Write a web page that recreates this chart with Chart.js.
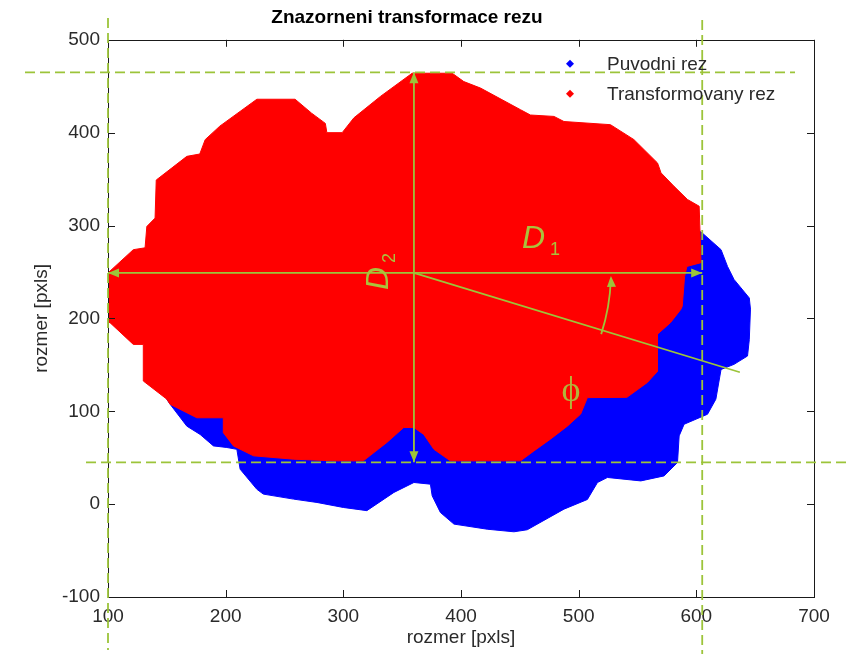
<!DOCTYPE html>
<html>
<head>
<meta charset="utf-8">
<script src="https://cdn.jsdelivr.net/npm/chart.js@4.4.1/dist/chart.umd.min.js"></script>
<style>
  html, body { margin: 0; padding: 0; background: #fff; }
</style>
</head>
<body>
<canvas id="rezChart" width="851" height="654"></canvas>
<script>
// outline of the original slice (blue), partly hidden under the red one
const puvodniX = [605, 621, 626.5, 632, 645, 646, 645, 643.5, 632, 621, 616.6, 609.5, 589.6, 585.4, 584, 572.6, 552.8, 524.4, 516, 507.4, 487.5, 456.3, 445, 422.3, 394, 382.5, 375.5, 374, 360, 343, 320, 300, 277.6, 257.7, 232, 226.5, 212.3, 209.5, 201, 189.6, 178.3, 167, 152.8, 150, 145, 200, 400, 550, 595];
const puvodniY = [292, 274, 256, 242, 222, 210, 177, 159.5, 150.5, 145, 113, 96.8, 86, 73.5, 44.8, 30.4, 25, 28.7, 23.3, 5, -5.4, -27.6, -29.8, -27, -21.5, -9, 9, 21.5, 23.3, 12.6, -7, -3.6, 1.8, 5.4, 10.8, 16, 37.6, 59, 61, 62.7, 75, 84, 107.5, 113, 200, 350, 400, 380, 300];

// outline of the transformed slice (red)
const transX = [100, 121.5, 131.5, 133, 140, 141, 167, 178, 182.6, 195, 226.5, 259, 273, 284.7, 286, 299, 309, 331.5, 358.5, 392.5, 402.4, 416.6, 450.6, 459, 479, 487.5, 527, 547, 567, 570, 581, 592.5, 602.4, 604, 592, 590, 588, 586.8, 578, 567, 567, 558.4, 541, 507.4, 501.7, 490.4, 476, 462, 450.6, 391, 377, 368.4, 360, 351.3, 337, 317, 292, 257.7, 223.7, 206.6, 198, 198, 175.5, 152.8, 150, 130, 130, 121.5, 101.7, 100];
const transY = [249, 274, 276, 299, 308, 349, 374.5, 377, 392.5, 407, 436, 436, 421, 410, 400, 400, 416, 439, 464, 464, 455, 448, 424.7, 419, 417.5, 412, 408.6, 392.5, 367.4, 356.7, 342.3, 328, 320.8, 260, 256, 245, 213, 209.7, 195.4, 183, 143, 131, 115, 114.7, 97, 84, 70, 57.3, 46.6, 46.6, 59, 75, 82.5, 82.5, 66.4, 46.6, 46.6, 48.4, 52, 62.7, 77, 93, 93, 107.5, 113, 132.6, 172, 172, 195.4, 196];

const seriesNames = ['Puvodni rez', 'Transformovany rez'];
const xTicks = [100, 200, 300, 400, 500, 600, 700];
const yTicks = [-100, 0, 100, 200, 300, 400, 500];

// measurement guides
const guideX = [100, 605];
const guideY = [45, 465];
const centre = [360, 249];
const axisEnd = [637, 142];

const FONT = '"Liberation Sans", Arial, Helvetica, sans-serif';
const GREEN = '#9cc43a';
const LABEL_GREEN = '#a9c23c';

function toPoints(xs, ys) {
    const pts = xs.map((x, i) => ({x: x, y: ys[i]}));
    pts.push({x: xs[0], y: ys[0]});
    return pts;
}

function line(ctx, x0, y0, x1, y1) {
    ctx.beginPath();
    ctx.moveTo(x0, y0);
    ctx.lineTo(x1, y1);
    ctx.stroke();
}

function head(ctx, tx, ty, ang) {
    const len = 11, half = 4.5;
    ctx.beginPath();
    ctx.moveTo(tx, ty);
    ctx.lineTo(tx - len * Math.cos(ang) - half * Math.sin(ang), ty - len * Math.sin(ang) + half * Math.cos(ang));
    ctx.lineTo(tx - len * Math.cos(ang) + half * Math.sin(ang), ty - len * Math.sin(ang) - half * Math.cos(ang));
    ctx.closePath();
    ctx.fill();
}

// MATLAB style box with inward ticks
const frame = {
    id: 'frame',
    afterDatasetsDraw(chart) {
        const {ctx, chartArea: a, scales: {x, y}} = chart;
        ctx.save();
        ctx.strokeStyle = '#1a1a1a';
        ctx.lineWidth = 1;
        ctx.strokeRect(Math.round(a.left) + 0.5, Math.round(a.top) + 0.5, Math.round(a.right - a.left), Math.round(a.bottom - a.top));
        ctx.beginPath();
        xTicks.forEach(v => {
            const px = Math.round(x.getPixelForValue(v)) + 0.5;
            ctx.moveTo(px, a.bottom); ctx.lineTo(px, a.bottom - 7);
            ctx.moveTo(px, a.top); ctx.lineTo(px, a.top + 7);
        });
        yTicks.forEach(v => {
            const py = Math.round(y.getPixelForValue(v)) + 0.5;
            ctx.moveTo(a.left, py); ctx.lineTo(a.left + 7, py);
            ctx.moveTo(a.right, py); ctx.lineTo(a.right - 7, py);
        });
        ctx.stroke();
        ctx.restore();
    }
};

const guides = {
    id: 'guides',
    afterDatasetsDraw(chart) {
        const {ctx, scales: {x, y}} = chart;
        const xl = x.getPixelForValue(guideX[0]), xr = x.getPixelForValue(guideX[1]);
        const yb = y.getPixelForValue(guideY[0]), yt = y.getPixelForValue(guideY[1]);
        const cx = x.getPixelForValue(centre[0]), cy = y.getPixelForValue(centre[1]);
        const ex = x.getPixelForValue(axisEnd[0]), ey = y.getPixelForValue(axisEnd[1]);

        ctx.save();
        ctx.strokeStyle = GREEN;
        ctx.fillStyle = GREEN;
        ctx.lineWidth = 1.8;

        ctx.setLineDash([10, 5]);
        line(ctx, 25, yt, 795, yt);
        line(ctx, 86, yb, 851, yb);
        line(ctx, xl, 18, xl, 650);
        line(ctx, xr, 20, xr, 654);
        ctx.setLineDash([]);

        // D1
        line(ctx, xl, cy, xr, cy);
        head(ctx, xl, cy, Math.PI);
        head(ctx, xr, cy, 0);
        // D2
        line(ctx, cx, yt, cx, yb);
        head(ctx, cx, yt, -Math.PI / 2);
        head(ctx, cx, yb, Math.PI / 2);
        // main axis + angle
        line(ctx, cx, cy, ex, ey);
        const r = 197, phi = Math.atan2(ey - cy, ex - cx);
        ctx.beginPath();
        ctx.arc(cx, cy, r, 0.03, phi + 0.02);
        ctx.stroke();
        head(ctx, cx + r, cy + 3, -Math.PI / 2 - 0.05);

        // labels
        ctx.fillStyle = LABEL_GREEN;
        ctx.textBaseline = 'alphabetic';
        ctx.font = 'italic 32px ' + FONT;
        ctx.fillText('D', cx + 108, cy - 25);
        ctx.font = '18px ' + FONT;
        ctx.fillText('1', cx + 136, cy - 18);

        ctx.save();
        ctx.translate(cx - 26, cy + 17);
        ctx.rotate(-Math.PI / 2);
        ctx.font = 'italic 32px ' + FONT;
        ctx.fillText('D', 0, 0);
        ctx.font = '18px ' + FONT;
        ctx.fillText('2', 27, 7);
        ctx.restore();

        ctx.fillStyle = '#b2b43a';
        ctx.font = '36px "Liberation Serif", "DejaVu Serif", serif';
        ctx.textAlign = 'center';
        ctx.textBaseline = 'middle';
        ctx.fillText('\u03D5', cx + 157, cy + 119);
        ctx.restore();
    }
};

// legend inside the axes, no box
const insideLegend = {
    id: 'insideLegend',
    afterDraw(chart) {
        const {ctx, chartArea: a} = chart;
        ctx.save();
        ctx.font = '19px ' + FONT;
        ctx.textBaseline = 'middle';
        ctx.textAlign = 'left';
        chart.data.datasets.forEach((ds, i) => {
            const ly = a.top + 24 + i * 30;
            const mx = a.right - 244;
            ctx.fillStyle = ds.backgroundColor;
            ctx.beginPath();
            ctx.moveTo(mx, ly - 4); ctx.lineTo(mx + 4, ly); ctx.lineTo(mx, ly + 4); ctx.lineTo(mx - 4, ly);
            ctx.closePath();
            ctx.fill();
            ctx.fillStyle = '#2a2a2a';
            ctx.fillText(ds.label, a.right - 207, ly + 1);
        });
        ctx.restore();
    }
};

const tickFont = {family: FONT, size: 19};

new Chart(document.getElementById('rezChart').getContext('2d'), {
    type: 'scatter',
    data: {
        datasets: [{
            label: seriesNames[0],
            data: toPoints(puvodniX, puvodniY),
            showLine: true,
            fill: 'shape',
            tension: 0,
            borderColor: '#0000ff',
            backgroundColor: '#0000ff',
            borderWidth: 1,
            pointRadius: 0,
            order: 2
        }, {
            label: seriesNames[1],
            data: toPoints(transX, transY),
            showLine: true,
            fill: 'shape',
            tension: 0,
            borderColor: '#ff0000',
            backgroundColor: '#ff0000',
            borderWidth: 1,
            pointRadius: 0,
            order: 1
        }]
    },
    options: {
        responsive: false,
        animation: false,
        layout: {padding: {left: 0, right: 37, top: 0, bottom: 0}},
        plugins: {
            legend: {display: false},
            tooltip: {enabled: false},
            title: {
                display: true,
                text: 'Znazorneni transformace rezu',
                color: '#000',
                font: {family: FONT, size: 19, weight: 'bold'},
                padding: {top: 6, bottom: 11}
            }
        },
        scales: {
            x: {
                type: 'linear',
                min: 100,
                max: 700,
                afterBuildTicks: s => { s.ticks = xTicks.map(v => ({value: v})); },
                afterFit: s => { s.height = 57; },
                grid: {display: false, drawTicks: false},
                border: {display: false},
                ticks: {padding: 8, font: tickFont, color: '#2a2a2a'},
                title: {display: true, text: 'rozmer [pxls]', color: '#2a2a2a', font: tickFont, padding: {top: 0, bottom: 5}}
            },
            y: {
                type: 'linear',
                min: -100,
                max: 500,
                afterBuildTicks: s => { s.ticks = yTicks.map(v => ({value: v})); },
                afterFit: s => { s.width = 108; },
                grid: {display: false, drawTicks: false},
                border: {display: false},
                ticks: {padding: 8, font: tickFont, color: '#2a2a2a'},
                title: {display: true, text: 'rozmer [pxls]', color: '#2a2a2a', font: tickFont, padding: {top: 30, bottom: 0}}
            }
        }
    },
    plugins: [frame, guides, insideLegend]
});
</script>
</body>
</html>
